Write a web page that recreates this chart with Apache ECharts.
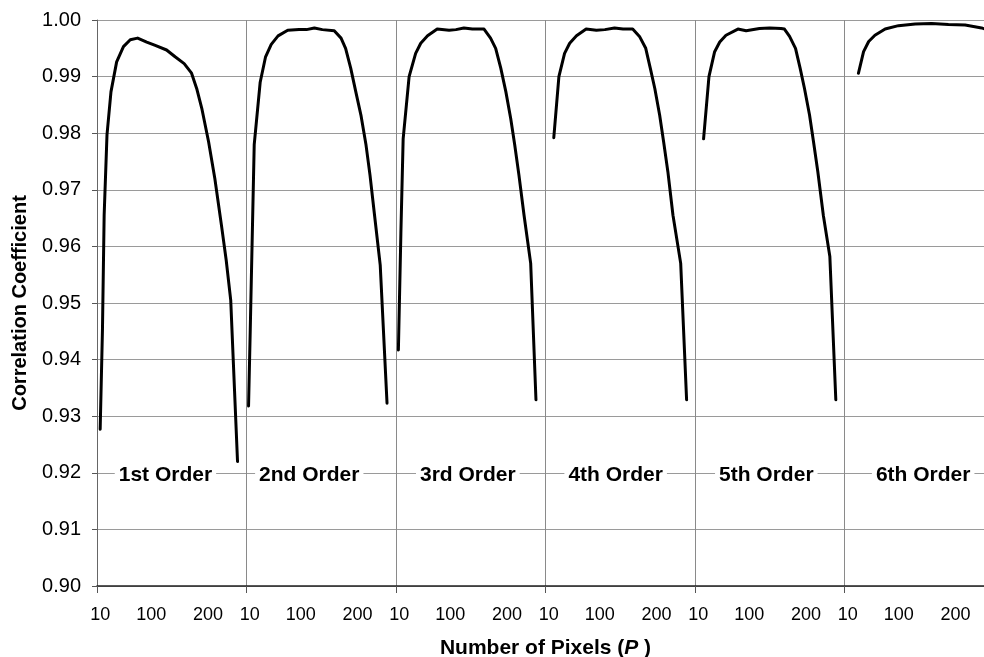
<!DOCTYPE html>
<html>
<head>
<meta charset="utf-8">
<script src="https://cdn.jsdelivr.net/npm/echarts@6/dist/echarts.min.js"></script>
<style>
html, body { margin: 0; padding: 0; background: #fff; }
#main { width: 984px; height: 657px; }
</style>
</head>
<body>
<div id="main"></div>
<script>
// panel titles and x tick labels (number of pixels P)
var orders = ['1st Order', '2nd Order', '3rd Order', '4th Order', '5th Order', '6th Order'];
var xTickLabels = [10, 100, 200];

// correlation coefficient vs P, one curve per polynomial order
var p1 = [10, 14, 17, 22, 29, 39, 51, 63, 76, 92, 107, 127, 142, 158, 171, 180, 189, 201, 212, 224, 232, 240, 252];
var r1 = [0.9277, 0.9452, 0.9655, 0.9797, 0.9873, 0.9926, 0.9953, 0.9965, 0.9968, 0.9961, 0.9955, 0.9947, 0.9935, 0.9923, 0.9906, 0.9879, 0.9844, 0.9785, 0.9720, 0.9635, 0.9576, 0.9505, 0.9220];

var p2 = [8, 11, 15, 18, 28.5, 38, 48, 60, 77, 97, 110, 124, 138, 159, 171, 179, 188, 197, 206, 215, 222, 230, 240, 252];
var r2 = [0.9318, 0.9452, 0.9640, 0.9780, 0.9890, 0.9935, 0.9957, 0.9972, 0.9982, 0.9983, 0.9983, 0.9986, 0.9983, 0.9981, 0.9968, 0.9950, 0.9915, 0.9873, 0.9832, 0.9779, 0.9726, 0.9655, 0.9567, 0.9323];

var p3 = [8.6, 13, 17, 27.5, 39, 48, 60, 77, 98, 110, 124, 139, 159.5, 171, 180, 189, 198, 206.5, 213.6, 221, 230, 241.7, 251];
var r3 = [0.9417, 0.9623, 0.9790, 0.9900, 0.9941, 0.9959, 0.9972, 0.9984, 0.9982, 0.9983, 0.9986, 0.9984, 0.9984, 0.9968, 0.9950, 0.9915, 0.9873, 0.9826, 0.9779, 0.9726, 0.9655, 0.9570, 0.9329];

var p4 = [19, 28, 38, 47, 59, 76, 94, 109, 126, 141, 158, 170, 181, 189, 197, 205.5, 212.5, 220, 229, 242.6, 253];
var r4 = [0.9792, 0.9900, 0.9941, 0.9959, 0.9972, 0.9984, 0.9982, 0.9983, 0.9986, 0.9984, 0.9984, 0.9971, 0.9950, 0.9915, 0.9879, 0.9832, 0.9785, 0.9732, 0.9655, 0.9570, 0.9329];

var p5 = [19.5, 29, 39, 48, 59, 80, 94.5, 118, 136, 156, 162, 171, 181.5, 189.6, 197.3, 206.2, 213.2, 220.8, 230.5, 242, 252.5];
var r5 = [0.9790, 0.9900, 0.9944, 0.9961, 0.9973, 0.9984, 0.9981, 0.9985, 0.9986, 0.9985, 0.9984, 0.9971, 0.9950, 0.9915, 0.9879, 0.9832, 0.9785, 0.9732, 0.9655, 0.9582, 0.9329];

var p6 = [29, 38, 47, 58, 76, 99.5, 129, 158, 187.5, 217, 246, 252];
var r6 = [0.9906, 0.9944, 0.9962, 0.9973, 0.9984, 0.9990, 0.9993, 0.9994, 0.9992, 0.9991, 0.9986, 0.9984];

var allP = [p1, p2, p3, p4, p5, p6];
var allR = [r1, r2, r3, r4, r5, r6];

// each panel is one unit wide on the x axis; P runs from P0 to P0+W inside a panel
var P0 = 4.4;
var W = 263.4;
var labelP = [125, 115, 131, 128, 130, 143]; // where the order labels sit (in P)

function toX(i, p) { return i + (p - P0) / W; }

var tickVals = [];
for (var i = 0; i < 6; i++) {
    for (var j = 0; j < xTickLabels.length; j++) tickVals.push(toX(i, xTickLabels[j]));
}
var bounds = [0, 1, 2, 3, 4, 5, 6];

var font = 'Liberation Sans, Arial, sans-serif';
var series = [];
for (var i = 0; i < 6; i++) {
    var d = [];
    for (var k = 0; k < allP[i].length; k++) d.push([toX(i, allP[i][k]), allR[i][k]]);
    series.push({
        name: orders[i],
        type: 'line',
        data: d,
        showSymbol: false,
        symbol: 'none',
        smooth: false,
        lineStyle: { color: '#000', width: 3, cap: 'round', join: 'round' },
        z: 3
    });
}
// order labels sitting on the 0.92 gridline
series.push({
    type: 'scatter',
    symbolSize: 1,
    itemStyle: { color: '#fff', opacity: 1 },
    data: orders.map(function (o, i) { return { name: o, value: [toX(i, labelP[i]), 0.92] }; }),
    label: {
        show: true,
        position: 'inside',
        offset: [0, 2],
        formatter: '{b}',
        color: '#000',
        fontFamily: font,
        fontWeight: 'bold',
        fontSize: 21,
        backgroundColor: '#fff',
        padding: [1, 4]
    },
    z: 4
});

var myChart = echarts.init(document.getElementById('main'));
var option = {
    animation: false,
    backgroundColor: '#fff',
    grid: { left: 97, top: 20, bottom: 71, right: -10, containLabel: false, outerBoundsMode: 'none' },
    xAxis: {
        type: 'value',
        min: 0,
        max: 6,
        interval: 1,
        name: 'Number of Pixels ({i|P} )',
        nameLocation: 'middle',
        nameGap: 52,
        nameTextStyle: {
            color: '#000', fontFamily: font, fontWeight: 'bold', fontSize: 21,
            rich: { i: { fontStyle: 'italic', fontWeight: 'bold', fontSize: 21, fontFamily: font, color: '#000' } }
        },
        axisLine: { show: true, onZero: false, lineStyle: { color: '#222', width: 1.5 } },
        axisTick: { show: true, customValues: bounds, length: 7, lineStyle: { color: '#555' } },
        splitLine: { show: true, lineStyle: { color: '#8a8a8a', width: 1 } },
        axisLabel: {
            customValues: tickVals,
            margin: 20,
            color: '#000',
            fontFamily: font,
            fontSize: 18,
            formatter: function (v) {
                var f = v - Math.floor(v + 1e-9);
                return Math.round((f * W + P0) / 10) * 10;
            }
        }
    },
    yAxis: {
        type: 'value',
        min: 0.9,
        max: 1.0,
        interval: 0.01,
        name: 'Correlation Coefficient',
        nameLocation: 'middle',
        nameGap: 67,
        nameTextStyle: { color: '#000', fontFamily: font, fontWeight: 'bold', fontSize: 20 },
        axisLine: { show: true, lineStyle: { color: '#666', width: 1 } },
        axisTick: { show: true, length: 5, lineStyle: { color: '#555' } },
        splitLine: { show: true, lineStyle: { color: '#9a9a9a', width: 1 } },
        axisLabel: {
            margin: 16,
            color: '#000',
            fontFamily: font,
            fontSize: 20,
            formatter: function (v) { return v.toFixed(2); }
        }
    },
    series: series
};
myChart.setOption(option);
</script>
</body>
</html>
